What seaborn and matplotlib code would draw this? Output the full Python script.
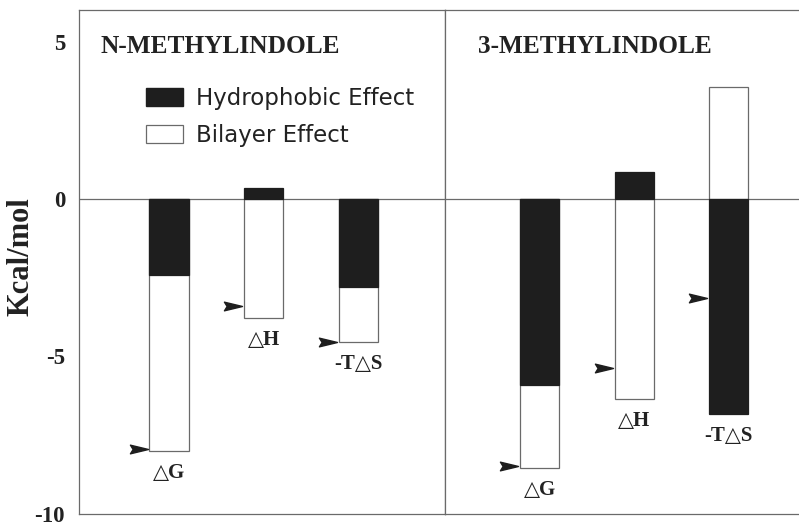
import matplotlib
matplotlib.use("Agg")
import matplotlib.pyplot as plt
import seaborn as sns
import pandas as pd
from matplotlib.path import Path
from matplotlib.patches import Patch

# ---- data ----
terms = ["dG", "dH", "-TdS"]
term_labels = ["\u25b3G", "\u25b3H", "-T\u25b3S"]
n_hydro = [-2.4, 0.35, -2.78]
n_bilayer = [-5.6, -3.78, -1.76]
n_measured = [-7.95, -3.40, -4.54]
m_hydro = [-5.9, 0.86, -6.82]
m_bilayer = [-2.64, -6.35, 3.55]
m_measured = [-8.48, -5.35, -3.15]
panel_titles = ["N-METHYLINDOLE", "3-METHYLINDOLE"]
legend_labels = ["Hydrophobic Effect", "Bilayer Effect"]
yticks = [5, 0, -5, -10]

sns.set_style("white")
serif = ["Liberation Serif", "DejaVu Serif"]
sym_font = ["Liberation Serif", "DejaVu Sans"]
plt.rcParams["font.family"] = serif

EDGE = "#6a6a6a"
DARK = "#1e1e1e"
TXT = "#222222"

W, H = 799, 522
fig = plt.figure(figsize=(W / 100, H / 100), dpi=100)
ax1 = fig.add_axes([79 / W, 8 / H, 366 / W, 504 / H])
ax2 = fig.add_axes([445 / W, 8 / H, 366 / W, 504 / H])

arrow = Path([(-1.0, -0.24), (0.0, 0.0), (-1.0, 0.24), (-0.85, 0.0), (-1.0, -0.24)],
             [Path.MOVETO, Path.LINETO, Path.LINETO, Path.LINETO, Path.CLOSEPOLY])

bar_w = 0.415
panels = [(ax1, n_hydro, n_bilayer, n_measured, panel_titles[0], -0.952, 0.058),
          (ax2, m_hydro, m_bilayer, m_measured, panel_titles[1], -1.0, 0.09)]

for ax, hyd, bil, meas, title, xleft, tx in panels:
    # white (bilayer) layer: stacked on hydrophobic when same sign, else from zero
    white_top = [b + h if (b * h > 0) else b for h, b in zip(hyd, bil)]
    df_w = pd.DataFrame({"term": terms, "value": white_top})
    df_h = pd.DataFrame({"term": terms, "value": hyd})
    sns.barplot(data=df_w, x="term", y="value", ax=ax, color="white",
                edgecolor=EDGE, linewidth=0.9, width=bar_w, saturation=1, zorder=2)
    sns.barplot(data=df_h, x="term", y="value", ax=ax, color=DARK,
                edgecolor=DARK, linewidth=0.9, width=bar_w, saturation=1, zorder=3)
    # measured-value arrows
    xs = [i - bar_w / 2 - 0.02 for i in range(len(terms))]
    ax.plot(xs, meas, linestyle="none", marker=arrow, markersize=26,
            color=DARK, zorder=4, clip_on=False)
    # term labels below bars
    for i, (lab, wt, h) in enumerate(zip(term_labels, white_top, hyd)):
        low = min(wt, h, 0)
        ax.annotate(lab, (i, low), xytext=(0, -16), textcoords="offset points",
                    ha="center", va="center", fontsize=15, fontweight="bold",
                    family=sym_font, color=TXT)
    ax.axhline(0, color=EDGE, linewidth=0.9, zorder=1)
    ax.set_xlim(xleft, xleft + 3.87)
    ax.set_ylim(-10, 6)
    ax.set_xlabel("")
    ax.set_ylabel("")
    ax.set_xticks([])
    for s in ax.spines.values():
        s.set_color(EDGE)
        s.set_linewidth(0.9)
        s.set_visible(True)
    ax.text(tx, 0.927, title, transform=ax.transAxes, ha="left", va="center",
            fontsize=18.3, fontweight="bold", color=TXT)

ax1.set_yticks(yticks)
ax1.set_yticks(range(-10, 7), minor=True)
ax1.set_yticklabels([str(t) for t in yticks], fontsize=16.5, fontweight="bold", color=TXT)
ax1.tick_params(axis="y", which="both", direction="in", length=7, width=0.8,
                color=EDGE, pad=10)
ax1.set_ylabel("Kcal/mol", fontsize=22, fontweight="bold", color=TXT)
ax1.yaxis.set_label_coords(-0.118, 0.51)
ax2.set_yticks([])

# legend
handles = [Patch(facecolor=DARK, edgecolor=DARK),
           Patch(facecolor="white", edgecolor=EDGE, linewidth=0.9)]
leg = ax1.legend(handles, legend_labels, loc="upper left", bbox_to_anchor=(0.183, 0.848),
                 frameon=False, prop={"family": "DejaVu Sans", "size": 16.5},
                 handlelength=1.6, handleheight=0.85, handletextpad=0.57, labelspacing=0.62,
                 borderpad=0, borderaxespad=0)
for t in leg.get_texts():
    t.set_color(TXT)

fig.savefig("out.png", dpi=100)
